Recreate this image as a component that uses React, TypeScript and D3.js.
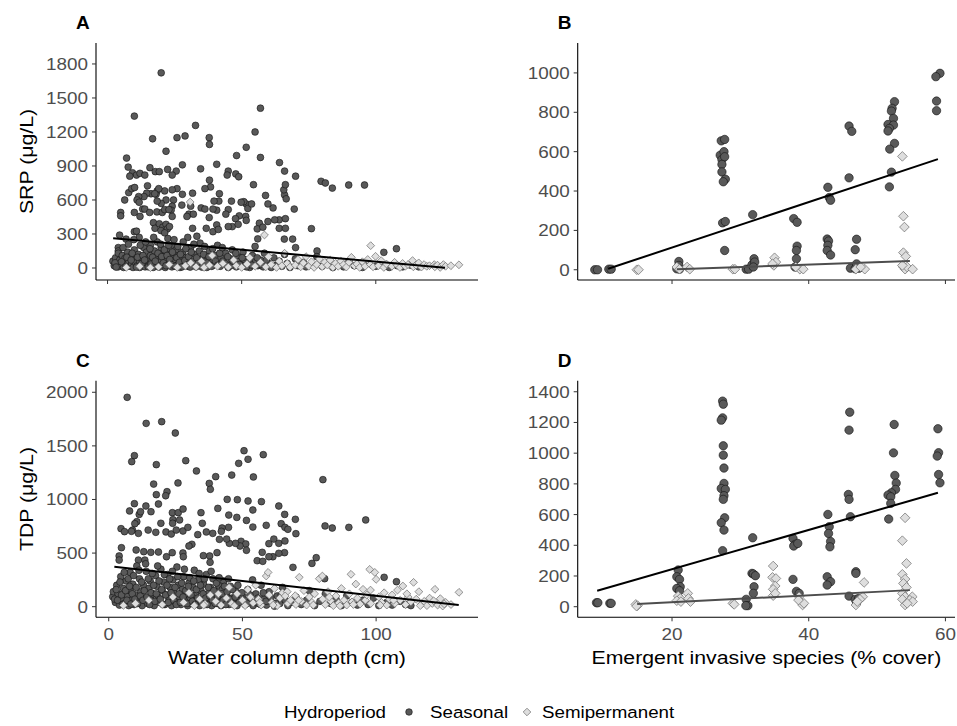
import React from "react";
import * as d3 from "d3";

type P = [number, number];

// ---------- Panel A: SRP vs water depth ----------
const srpDepthSeasonal: P[] = [
  [20,1722],[10,1340],[57,1410],[32.8,1258],[55,1200],[16.8,1140],[25.9,1150],[28.9,1165],[37.9,1150],[38,1090],
  [51.7,1065],[21.8,1030],[48.1,992],[57,975],[7.1,970],[64.1,930],[40.7,915],[27.9,910],[7.7,890],[15.8,885],
  [22.4,870],[45,855],[44.6,820],[66,855],[34.7,875],[70.1,810],[47.8,830],[48.9,805],[25.6,855],[24.1,820],
  [17.8,850],[19.3,850],[9.3,840],[10.8,820],[12.1,835],[13.9,820],[8.3,810],[79.6,765],[81.2,750],[83.8,705],
  [89.9,732],[95.8,732],[76,347],[78.1,150],[103,138],[107.7,170],[69.6,520],[69,255],[70.1,180],[61.7,530],
  [58.9,640],[59.8,565],[66,645],[66.6,610],[65.7,690],[66.3,735],[64,425],[66.3,435],[64,350],[66.3,350],
  [65.9,255],[62.3,425],[59.8,410],[56.6,395],[55.8,345],[57.9,360],[56,257],[54.4,735],[51.7,565],[50.8,585],
  [52.3,525],[53.7,565],[49.8,580],[51.5,455],[51.7,420],[49.1,460],[47.7,435],[46.5,365],[48.7,385],[45,365],
  [46.2,590],[45,515],[44.1,475],[41.7,655],[41.5,590],[39.7,590],[40.7,510],[38,775],[38.4,715],[36.3,700],
  [34.9,530],[36.3,520],[39.3,520],[37.9,445],[40.7,380],[36.8,350],[39.3,320],[41.3,340],[31.7,660],[31,545],
  [30.3,475],[32,475],[31.7,350],[33.3,280],[27.9,650],[27.7,555],[29.6,455],[29.9,270],[25.9,700],[24.1,690],
  [21.3,680],[24.6,600],[24.1,545],[23.7,510],[24.1,455],[21.8,600],[20,570],[18.5,590],[18.5,680],[18.1,650],
  [19.1,700],[16.2,655],[14.6,660],[13.6,630],[11.6,630],[11,600],[11.8,580],[14.9,725],[17.6,655],[7.9,665],
  [9,700],[10.1,710],[6.4,600],[4.9,490],[4.9,460],[10,490],[12.1,455],[13.1,520],[13.9,520],[15.7,490],
  [18.4,495],[20.4,490],[21.3,515],[22.9,515],[17.1,400],[17.7,350],[19.3,390],[20.6,360],[21.8,385],[22.3,345],
  [23.1,365],[19.9,330],[21.3,310],[10,320],[10.8,325],[11.8,270],[6.9,255],[4,180],[4,150],[4.5,290],
  [2,60],[2.5,20],[3,90],[3.5,40],[4,10],[4,130],[4.5,70],[5,25],[5.5,110],[6,50],[6,5],[6.5,85],[7,30],[7.5,140],
  [8,15],[8,60],[8.5,100],[9,35],[9.5,5],[10,75],[10,160],[10.5,45],[11,20],[11.5,120],[12,60],[12,5],[12.5,90],
  [13,30],[13.5,180],[14,50],[14,10],[14.5,140],[15,80],[15.5,25],[16,110],[16,200],[16.5,55],[17,5],[17.5,150],
  [18,40],[18,90],[18.5,230],[19,15],[19.5,120],[20,60],[20,180],[20.5,30],[21,100],[21.5,5],[22,150],[22,70],
  [22.5,260],[23,40],[23.5,120],[24,10],[24,200],[24.5,80],[25,50],[25.5,160],[26,25],[26.5,110],[27,5],[27.5,70],
  [28,140],[28.5,35],[29,90],[30,15],[30.5,60],[31,180],[32,40],[32.5,120],[33,10],[34,80],[34.5,220],[35,30],
  [36,100],[36.5,55],[37,5],[38,150],[38.5,70],[39,20],[40,110],[40.5,45],[41,200],[42,15],[42.5,90],[43,60],
  [44,130],[44.5,25],[45,5],[46,80],[46.5,160],[47,40],[48,10],[48.5,100],[49,55],[50,20],[50.5,140],[51,75],
  [52,30],[53,5],[54,110],[54.5,50],[55,190],[56,20],[57,70],[58,10],[58.5,130],[60,40],[61,5],[62,90],[63,25],
  [64,60],[65,15],[66,120],[67,40],[68,5],[70,80],[71,20],[73,50],[74,10],[76,30],[78,100],[80,15],[82,45],
  [84,5],[86,30],[88,10],[90,60],[92,20],[95,5],[97,40],[100,15],[102,30],[105,5],[108,20],[110,10],[113,25],[116,10]
];
const srpDepthSeasonalLow: P[] = [
  [2.8,45],[3.2,8],[5.2,55],[5.8,180],[6.8,12],[7.2,95],[7.8,210],[8.8,70],[9.2,130],[9.8,250],[10.8,8],[11.2,95],
  [12.2,200],[12.8,40],[13.2,110],[13.8,70],[14.2,230],[15.2,10],[15.8,170],[16.2,35],[16.8,95],[17.2,270],[17.8,60],
  [18.8,130],[19.2,8],[19.8,210],[20.2,100],[20.8,45],[21.2,160],[21.8,20],[22.2,110],[22.8,200],[23.2,75],[23.8,30],
  [24.2,140],[24.8,250],[25.2,15],[25.8,90],[26.2,190],[26.8,50],[27.2,120],[27.8,10],[28.2,230],[28.8,65],[29.2,170],
  [29.8,30],[30.2,100],[30.8,8],[31.2,140],[31.8,60],[32.2,210],[33.2,90],[33.8,40],[34.2,150],[35.2,8],[35.8,120],
  [36.2,190],[37.2,45],[37.8,100],[38.8,15],[39.2,170],[40.2,60],[41.2,25],[41.8,130],[42.8,180],[43.8,40],[44.8,100],
  [45.8,20],[46.8,60],[47.8,130],[49.2,30],[50.2,90],[51.8,10],[52.8,60],[53.8,25],[55.8,90],[57.2,30],[59.2,70]
];
const srpDepthSemi: P[] = [
  [7,5],[12,15],[16,3],[19,10],[23,30],[26,5],[30.8,582],[29,20],[31,45],[33,10],[35,60],[36,5],[38,25],[39,110],
  [41,15],[43,40],[45,8],[47,70],[48,20],[50,5],[52,35],[53,90],[55,15],[57,50],[58.5,291],[59,10],[60,100],
  [61,30],[63,5],[64,60],[65,20],[66,130],[67,40],[68,8],[70,25],[71,75],[72,10],[73,45],[74,100],[75,15],
  [76,55],[77,5],[78,30],[79,80],[80,12],[81,50],[82,25],[83,70],[84,5],[85,40],[86,15],[87,60],[88,30],[89,8],
  [90,50],[90.9,94],[92,20],[93,35],[94,5],[95,55],[96,15],[97,75],[98.1,197],[98,30],[99,10],[99.9,103],
  [101,20],[102,65],[103,5],[104,35],[106,15],[107,50],[108,25],[109,5],[110,40],[111,15],[112,30],[113.7,65],
  [114,10],[115,25],[116,45],[117,8],[118,30],[119,15],[120,20],[121.8,30],[122,10],[123,25],[124,5],
  [125.2,30],[126,15],[128,20],[131,28]
];
const srpDepthFit: P[] = [[2.1,262],[125.8,2]];

// ---------- Panel B: SRP vs emergent invasive cover ----------
const srpCoverSeasonal: P[] = [
  [8.7,0],[9.1,0],[10.75,3],[11.1,3],[21,42],[21,22],[20.7,5],[21.1,3],
  [27.2,655],[27.7,662],[27.05,582],[27.6,600],[27.3,560],[27.7,574],[27.3,535],[27.3,497],[27.8,460],[27.5,447],
  [27.4,238],[27.8,245],[27.7,98],[31.8,280],[30.85,3],[31.2,3],[31.7,25],[32,56],[32.1,39],[31.9,14],
  [37.8,260],[38.3,241],[38.3,120],[38.2,98],[38.2,56],[38,14],[42.8,419],[43,367],[43.2,353],[42.7,156],
  [42.9,146],[42.8,124],[42.7,98],[43.2,75],[45.9,730],[46.3,703],[45.9,467],[47,155],[46.8,102],[46.1,8],
  [46.8,5],[47.35,8],[47,30],[52.55,854],[52.2,820],[52.1,806],[52.4,769],[51.6,738],[52.4,735],[51.8,718],
  [51.6,705],[52.55,642],[51.85,613],[52.1,496],[51.8,421],[59.2,998],[58.6,981],[58.7,857],[58.7,808]
];
const srpCoverSemi: P[] = [
  [14.85,0],[15.1,0],[20.7,14],[21.1,3],[22.2,14],[22.6,3],[28.9,3],[29.2,3],[35,61],[34.9,22],[35.2,39],
  [34.7,30],[38.7,3],[39.2,3],[38.1,14],[46.9,3],[48.2,3],[47.6,14],[53.7,576],[53.85,272],[54,217],[53.85,87],
  [54.2,68],[53.85,14],[54.1,3],[54.4,14],[55.2,3],[53.7,22]
];
const srpCoverSeasonalFit: P[] = [[10.65,5],[58.9,562]];
const srpCoverSemiFit: P[] = [[20.7,3],[54.8,44]];

// ---------- Panel C: TDP vs water depth ----------
const tdpDepthSeasonal: P[] = [
  [6.9,1953],[19.8,1726],[14,1710],[24.9,1620],[17.8,1325],[9.6,1409],[8.6,1353],[28.8,1362],[32.8,1266],
  [50.6,1455],[48.6,1337],[52.1,1375],[57.8,1418],[46,1228],[54.1,1210],[40,1213],[37.6,1150],[38,1095],
  [25.9,1154],[16.8,1144],[80.1,1185],[17.8,1045],[21.8,1073],[21.3,1035],[44.3,1001],[48.1,998],[52.1,986],
  [57.1,980],[63.6,939],[9.6,961],[13.9,939],[15.8,886],[18.6,958],[7.8,893],[11.4,861],[11.9,886],[23.8,877],
  [26,877],[27.8,911],[24,812],[26.5,809],[34.5,877],[40.8,917],[44.9,855],[47.9,833],[51.5,805],[53.9,902],
  [65.8,861],[69.8,815],[96.1,809],[80.9,753],[83.6,734],[89.8,740],[58.9,759],[53.9,743],[64.5,774],[65.9,740],
  [67,722],[70,681],[44.8,740],[42.4,734],[42.1,703],[38.9,684],[35,778],[36.5,697],[33.3,672],[10.5,793],
  [9.75,774],[8.9,715],[11.1,684],[8.5,703],[4.6,728],[5.9,700],[14.75,715],[17.6,694],[19.5,778],[21.4,697],
  [23.4,678],[25.25,715],[23.9,778],[27.75,706],[29.6,740],[49.5,610],[51.25,585],[51.5,526],[49.1,566],
  [47.4,591],[45.1,591],[44.1,631],[41.4,628],[57.4,507],[59.9,588],[61.75,631],[63.6,591],[65.9,613],
  [65.75,504],[63.6,498],[61.4,466],[59.9,466],[55.5,429],[57.6,423],[68.9,367],[76,404],[77.6,457],[31.1,582],
  [30,566],[27.75,501],[40.5,504],[37.75,473],[37.9,414],[35.4,476],[27.9,466],[23.75,504],[21.6,466],
  [18.6,510],[15.75,507],[13.1,513],[10.25,529],[11.1,435],[13.5,435],[4.75,550],[3.9,473],[3.9,435],
  [1.5,93],[1.75,140],[2.5,40],[3,200],[3.5,120],[4,15],[4.5,280],[5,70],[5.5,170],[6,30],[6.5,240],[7,100],
  [7.5,10],[8,320],[8,150],[8.5,60],[9,210],[9.5,20],[10,110],[10.5,380],[11,50],[11.5,260],[12,140],[12.5,10],
  [13,200],[13.5,80],[14,330],[14.5,30],[15,170],[15.5,240],[16,60],[16.5,120],[17,10],[17.5,290],[18,190],
  [18.5,90],[19,40],[19.5,350],[20,150],[20.5,230],[21,20],[21.5,110],[22,300],[22.5,60],[23,180],[23.5,10],
  [24,250],[24.5,130],[25,40],[25.5,370],[26,200],[26.5,90],[27,20],[27.5,160],[28,280],[28.5,60],[29,120],
  [29.5,10],[30,220],[30.5,80],[31,30],[31.5,180],[32,340],[32.5,110],[33,50],[33.5,250],[34,10],[34.5,150],
  [35,70],[35.5,210],[36,20],[36.5,300],[37,120],[37.5,50],[38,180],[38.5,10],[39,260],[39.5,90],[40,140],
  [40.5,30],[41,200],[41.5,70],[42,10],[42.5,160],[43,240],[43.5,50],[44,110],[45,20],[45.5,190],[46,80],
  [47,30],[47.5,140],[48,10],[49,60],[50,100],[51,20],[52,160],[53,50],[54,10],[55,120],[56,30],[57,200],
  [58,70],[59,15],[60,140],[61,40],[62,5],[63,100],[64,30],[65,180],[66,60],[67,10],[68,40],[70,90],[72,20],
  [74,60],[75,150],[77,10],[79,50],[80.75,261],[81,120],[83,30],[85,70],[87,10],[89,100],[91,40],[93,15],
  [95,60],[97,20],[99,80],[101,10],[103,274],[104,40],[106,15],[107.6,233],[109,50],[111,20],[113,10]
];
const tdpDepthSeasonalLow: P[] = [
  [2.2,70],[2.8,160],[3.3,60],[4.2,230],[4.8,110],[5.3,20],[5.8,320],[6.3,150],[6.8,60],[7.3,260],[7.8,190],[8.3,25],
  [8.8,120],[9.3,290],[9.8,70],[10.3,180],[10.8,30],[11.3,340],[11.8,100],[12.3,230],[12.8,60],[13.3,150],[13.8,400],
  [14.3,90],[14.8,260],[15.3,20],[15.8,130],[16.3,310],[16.8,200],[17.3,50],[17.8,120],[18.3,380],[18.8,240],[19.3,70],
  [19.8,160],[20.3,20],[20.8,300],[21.3,110],[21.8,200],[22.3,40],[22.8,260],[23.3,130],[23.8,330],[24.3,60],
  [24.8,180],[25.3,20],[25.8,280],[26.3,120],[26.8,40],[27.3,220],[27.8,90],[28.3,350],[28.8,150],[29.3,30],
  [29.8,190],[30.3,270],[30.8,110],[31.3,50],[31.8,240],[32.3,20],[32.8,160],[33.3,80],[33.8,310],[34.3,200],
  [34.8,40],[35.3,120],[35.8,260],[36.3,80],[36.8,20],[37.3,180],[37.8,100],[38.3,330],[38.8,60],[39.3,150],
  [39.8,30],[40.3,220],[40.8,100],[41.3,270],[41.8,40],[42.3,120],[42.8,60],[43.3,190],[43.8,20],[44.3,140],
  [44.8,260],[45.3,70],[46.3,160],[46.8,20],[47.3,90],[48.3,200],[48.8,40],[49.8,130],[50.8,60],[51.8,30],
  [52.8,110],[53.8,250],[54.8,40],[55.8,80],[56.8,20],[57.8,130],[58.8,50],[60.5,90],[62.5,30],[64.5,110]
];
const tdpDepthSemi: P[] = [
  [5.5,12],[10,30],[15,60],[20,20],[24,90],[28,40],[30,130],[32,10],[34,70],[36,25],[38,110],[40,50],[42,15],
  [44,80],[45,180],[46,30],[48,120],[50,60],[51,10],[52,160],[53,90],[54,35],[55,200],[56,70],[57,15],
  [58.9,286],[59.6,320],[60,110],[61,40],[62,170],[63,10],[64,80],[65,130],[66.75,140],[67,30],[68,60],
  [69.75,103],[70,20],[71.25,274],[72,50],[73,150],[74,15],[75,90],[76,40],[77,120],[78.75,261],[79.9,286],
  [80,70],[81,20],[82,140],[83,55],[84,10],[85,100],[86,35],[87,170],[88,60],[89,15],[90,120],[90.6,302],
  [91,45],[92.4,211],[93,80],[94,25],[95.1,162],[96,60],[97.6,348],[97.9,155],[98,30],[99.5,320],[100,255],
  [101,90],[102,40],[103,130],[104,15],[105,70],[106,110],[107,30],[108,155],[109,60],[110,193],[111,20],
  [112,90],[113,45],[114,227],[115,70],[116,140],[117,25],[118,50],[119,10],[120,80],[121,30],[122,162],
  [123,15],[124,75],[124.9,6],[126,40],[128,20],[131,134],
  [35.5,15],[41,120],[47,8],[56.5,40],[61.5,15],[66,100],[71,60],[76.5,15],[82.5,90],[86.5,8],[91.5,20],
  [96.5,110],[101.5,15],[106.5,60],[111.5,120],[116.5,10],[121.5,55],[125.5,25]
];
const tdpDepthFit: P[] = [[2.1,373],[130.9,16]];

// ---------- Panel D: TDP vs emergent invasive cover ----------
const tdpCoverSeasonal: P[] = [
  [8.95,26],[9.15,26],[10.9,22],[11.1,22],[20.9,239],[20.7,195],[21.1,178],[21.2,130],[20.7,119],[21.1,104],
  [27.4,1339],[27.5,1319],[27.4,1230],[27.2,1215],[27.5,1048],[27.5,987],[27.6,903],[27.6,803],[27.2,770],
  [27.8,764],[27.6,723],[27.5,699],[27.7,579],[27.2,547],[27.6,499],[27.4,365],[31.8,449],[31.7,217],[31.9,213],
  [32.2,202],[32,130],[31.9,87],[30.85,48],[31.1,7],[30.8,7],[37.7,445],[38,406],[37.8,395],[38.4,412],
  [37.7,178],[38.2,100],[38.6,87],[42.8,601],[43,521],[42.9,477],[43.2,425],[43.1,390],[42.7,195],[43.2,163],
  [42.7,141],[46,1267],[45.9,1150],[45.8,731],[45.9,699],[46.1,586],[46.9,228],[46.9,217],[45.9,69],[46.8,48],
  [47.3,54],[47,26],[52.5,1187],[52.4,1002],[52.6,855],[52.8,805],[52.7,764],[52.1,742],[51.6,727],[52,716],
  [52,673],[51.7,571],[58.9,1159],[59,1003],[58.8,981],[59,861],[59.2,807]
];
const tdpCoverSemi: P[] = [
  [14.7,15],[14.95,7],[14.8,4],[20.9,69],[21.2,54],[20.7,39],[22.3,87],[22.4,54],[22.7,33],[21.3,33],
  [28.9,22],[29.1,15],[34.8,265],[34.7,191],[35.2,184],[35.1,135],[34.8,113],[34.8,72],[35.1,87],[38.6,65],
  [38.8,33],[39.1,11],[39.3,22],[38.5,43],[48.1,158],[47.9,65],[47.5,48],[46.9,11],[47.1,33],[54.1,579],
  [53.7,430],[54.3,282],[53.7,211],[54.1,180],[53.85,152],[54.3,126],[53.7,87],[54.1,65],[53.7,48],[55.15,65],
  [54.8,43],[54.1,11],[55.2,33],[54.4,22]
];
const tdpCoverSeasonalFit: P[] = [[9.05,104],[58.9,742]];
const tdpCoverSemiFit: P[] = [[14.9,17],[54.8,108]];

const depthTicks = [0, 50, 100];
const coverTicks = [20, 40, 60];
const srpTicks = [0, 300, 600, 900, 1200, 1500, 1800];
const srpCoverTicks = [0, 200, 400, 600, 800, 1000];
const tdpTicks = [0, 500, 1000, 1500, 2000];
const tdpCoverTicks = [0, 200, 400, 600, 800, 1000, 1200, 1400];

const FONT = "'Liberation Sans', Arial, Helvetica, sans-serif";
const SEAS_FILL = "#595959";
const SEAS_STROKE = "#111";
const SEMI_FILL = "#dedede";
const SEMI_STROKE = "#6a6a6a";
const TICK_SX = 1.11;
const TITLE_SX = 1.15;

type Fit = { pts: P[]; color: string };

interface PanelProps {
  letter: string;
  left: number; right: number; top: number; bottom: number;
  xDomain: [number, number]; yDomain: [number, number];
  xTicks: number[]; yTicks: number[];
  showXLabels: boolean;
  seasonal: P[]; semi: P[];
  fits: Fit[];
  r: number;
  xTitle?: string; yTitle?: string;
}

function diamond(cx: number, cy: number, s: number) {
  return `M${cx},${cy - s}L${cx + s},${cy}L${cx},${cy + s}L${cx - s},${cy}Z`;
}

function Panel(p: PanelProps) {
  const x = d3.scaleLinear().domain(p.xDomain).range([p.left, p.right]);
  const y = d3.scaleLinear().domain(p.yDomain).range([p.bottom, p.top]);
  const line = d3.line<P>().x(d => x(d[0])).y(d => y(d[1]));
  const ds = p.r * 1.15;
  return (
    <g>
      <text x={p.left - 20} y={p.top - 14} fontFamily={FONT} fontWeight="bold" fontSize={19} fill="#000">{p.letter}</text>
      {p.seasonal.map((d, i) => (
        <circle key={"s" + i} cx={x(d[0])} cy={y(d[1])} r={p.r} fill={SEAS_FILL} stroke={SEAS_STROKE} strokeWidth={0.6} />
      ))}
      {p.semi.map((d, i) => (
        <path key={"m" + i} d={diamond(x(d[0]), y(d[1]), ds)} fill={SEMI_FILL} stroke={SEMI_STROKE} strokeWidth={0.7} />
      ))}
      {p.fits.map((f, i) => (
        <path key={"f" + i} d={line(f.pts) || ""} fill="none" stroke={f.color} strokeWidth={2} />
      ))}
      <line x1={p.left} x2={p.left} y1={p.top} y2={p.bottom} stroke="#000" strokeWidth={1.1} />
      <line x1={p.left} x2={p.right} y1={p.bottom} y2={p.bottom} stroke="#000" strokeWidth={1.1} />
      {p.yTicks.map(t => (
        <g key={"yt" + t}>
          <line x1={p.left - 4} x2={p.left} y1={y(t)} y2={y(t)} stroke="#333" strokeWidth={1} />
          <text transform={`translate(${p.left - 8},${y(t) + 6}) scale(${TICK_SX},1)`} textAnchor="end"
            fontFamily={FONT} fontSize={17} fill="#4d4d4d">{t}</text>
        </g>
      ))}
      {p.xTicks.map(t => (
        <g key={"xt" + t}>
          <line x1={x(t)} x2={x(t)} y1={p.bottom} y2={p.bottom + 4} stroke="#333" strokeWidth={1} />
          {p.showXLabels && (
            <text transform={`translate(${x(t)},${p.bottom + 23}) scale(${TICK_SX},1)`} textAnchor="middle"
              fontFamily={FONT} fontSize={17} fill="#4d4d4d">{t}</text>
          )}
        </g>
      ))}
      {p.yTitle && (
        <text transform={`translate(33,${(p.top + p.bottom) / 2}) rotate(-90) scale(${TITLE_SX},1)`} textAnchor="middle"
          fontFamily={FONT} fontSize={18.5} fill="#000">{p.yTitle}</text>
      )}
      {p.xTitle && (
        <text transform={`translate(${(p.left + p.right) / 2},664) scale(${TITLE_SX},1)`} textAnchor="middle"
          fontFamily={FONT} fontSize={18.5} fill="#000">{p.xTitle}</text>
      )}
    </g>
  );
}

export default function App() {
  return (
    <svg width={957} height={726} viewBox="0 0 957 726"
      style={{ position: "absolute", left: 0, top: 0, display: "block", background: "#fff" }}>
      <rect x={0} y={0} width={957} height={726} fill="#fff" />
      <Panel letter="A" left={96} right={478} top={43} bottom={280}
        xDomain={[-4.3, 138.1]} yDomain={[-106, 1985]} xTicks={depthTicks} yTicks={srpTicks}
        showXLabels={false} seasonal={srpDepthSeasonal.concat(srpDepthSeasonalLow)} semi={srpDepthSemi}
        fits={[{ pts: srpDepthFit, color: "#000" }]} r={3.4} yTitle="SRP (μg/L)" />
      <Panel letter="B" left={577.7} right={955} top={43} bottom={280}
        xDomain={[6.2, 61.4]} yDomain={[-52, 1152]} xTicks={coverTicks} yTicks={srpCoverTicks}
        showXLabels={false} seasonal={srpCoverSeasonal} semi={srpCoverSemi}
        fits={[{ pts: srpCoverSeasonalFit, color: "#000" }, { pts: srpCoverSemiFit, color: "#4d4d4d" }]} r={4.2} />
      <Panel letter="C" left={96} right={478} top={380.7} bottom={617.3}
        xDomain={[-4.76, 138.1]} yDomain={[-99, 2108]} xTicks={depthTicks} yTicks={tdpTicks}
        showXLabels={true} seasonal={tdpDepthSeasonal.concat(tdpDepthSeasonalLow)} semi={tdpDepthSemi}
        fits={[{ pts: tdpDepthFit, color: "#000" }]} r={3.4} yTitle="TDP (μg/L)" xTitle="Water column depth (cm)" />
      <Panel letter="D" left={577.7} right={955} top={380.7} bottom={617.3}
        xDomain={[6.2, 61.4]} yDomain={[-69, 1472]} xTicks={coverTicks} yTicks={tdpCoverTicks}
        showXLabels={true} seasonal={tdpCoverSeasonal} semi={tdpCoverSemi}
        fits={[{ pts: tdpCoverSeasonalFit, color: "#000" }, { pts: tdpCoverSemiFit, color: "#4d4d4d" }]} r={4.2}
        xTitle="Emergent invasive species (% cover)" />
      <g fontFamily={FONT} fontSize={16.3} fill="#000">
        <text transform={`translate(284,718) scale(${TITLE_SX},1)`}>Hydroperiod</text>
        <circle cx={409} cy={712} r={3.3} fill={SEAS_FILL} stroke={SEAS_STROKE} strokeWidth={0.6} />
        <text transform={`translate(430,718) scale(${TITLE_SX},1)`}>Seasonal</text>
        <path d={diamond(527, 712, 3.8)} fill={SEMI_FILL} stroke={SEMI_STROKE} strokeWidth={0.7} />
        <text transform={`translate(542,718) scale(${TITLE_SX},1)`}>Semipermanent</text>
      </g>
    </svg>
  );
}
